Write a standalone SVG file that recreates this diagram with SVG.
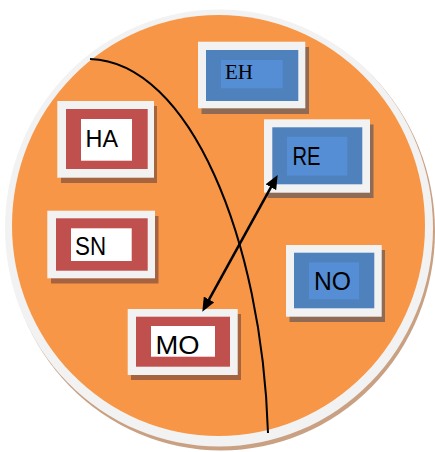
<svg xmlns="http://www.w3.org/2000/svg" width="435" height="452" viewBox="0 0 435 452">
<style>
.outer{fill:#F2F2F2}
.shb{fill:#8F6B55}
.shr{fill:#A6633F}
.red{fill:#C0504D}
.blue{fill:#4F81BD}
.lb{fill:#558ED5}
.wh{fill:#FFFFFF}
.t{font-family:"Liberation Sans",Arial,sans-serif;font-size:26px;fill:#000}
.ts{font-family:"Liberation Serif","Times New Roman",serif;font-size:22px;fill:#000}
</style>
<defs>
<marker id="ah" markerUnits="userSpaceOnUse" markerWidth="14" markerHeight="12" refX="7" refY="6" orient="auto-start-reverse">
<path d="M0,0 L14,6 L0,12 z" fill="#000"/>
</marker>
</defs>
<g id="circle">
<ellipse cx="221" cy="231" rx="214" ry="219.5" fill="#C9A082"/>
<ellipse cx="219" cy="228" rx="214" ry="218.5" fill="#F2F2F2"/>
<ellipse cx="218.5" cy="225.5" rx="206.5" ry="210.5" fill="#F79646"/>
</g>
<g id="node-EH">
<rect class="shb" x="201.5" y="47" width="107.5" height="67"/>
<rect class="outer" x="198" y="41.7" width="107.3" height="66.6"/>
<rect class="blue" x="206" y="50" width="92.3" height="51"/>
<rect class="lb" x="221" y="60" width="61.7" height="28.3"/>
<text class="ts" x="225" y="79.3" textLength="28" lengthAdjust="spacingAndGlyphs">EH</text>
</g>
<g id="node-HA">
<rect class="shr" x="61" y="106" width="96" height="77"/>
<rect class="outer" x="57.3" y="101" width="96.7" height="76.7"/>
<rect class="red" x="66" y="109" width="81.7" height="60"/>
<rect class="wh" x="81" y="119" width="51" height="41.7"/>
<text class="t" x="85.5" y="146.7" style="font-size:23.5px" textLength="32.5" lengthAdjust="spacingAndGlyphs">HA</text>
</g>
<g id="node-RE">
<rect class="shb" x="267.5" y="124.5" width="106" height="73.5"/>
<rect class="outer" x="264" y="119.3" width="106" height="73.4"/>
<rect class="blue" x="272.3" y="127.3" width="90" height="57"/>
<rect class="lb" x="287" y="136.7" width="60.3" height="39"/>
<text class="t" x="292.5" y="165" textLength="28" lengthAdjust="spacingAndGlyphs">RE</text>
</g>
<g id="node-SN">
<rect class="shr" x="51" y="216" width="107.5" height="67.5"/>
<rect class="outer" x="47.3" y="210.7" width="107.7" height="67.6"/>
<rect class="red" x="56" y="218.3" width="91.7" height="52.4"/>
<rect class="wh" x="71" y="228.3" width="60.7" height="32.7"/>
<text class="t" x="75" y="255" textLength="31" lengthAdjust="spacingAndGlyphs">SN</text>
</g>
<g id="node-NO">
<rect class="shb" x="289.5" y="250" width="95.5" height="72"/>
<rect class="outer" x="286" y="245" width="95.7" height="71.7"/>
<rect class="blue" x="294" y="252.7" width="80.3" height="55.6"/>
<rect class="lb" x="309" y="262.3" width="50" height="37"/>
<text class="t" x="314" y="290" textLength="37" lengthAdjust="spacingAndGlyphs">NO</text>
</g>
<g id="node-MO">
<rect class="shr" x="131" y="314" width="110" height="66"/>
<rect class="outer" x="127.7" y="309" width="110" height="66"/>
<rect class="red" x="136" y="316.7" width="94" height="50"/>
<rect class="wh" x="151" y="326" width="64" height="30.7"/>
<text class="t" x="155.5" y="354" textLength="44" lengthAdjust="spacingAndGlyphs">MO</text>
</g>
<g id="connectors" fill="none" stroke="#000">
<path d="M90,59 C190,62 262,240 268,433" stroke-width="2"/>
<line x1="274.3" y1="181.1" x2="205.7" y2="305.6" stroke-width="2.5" marker-start="url(#ah)" marker-end="url(#ah)"/>
</g>
</svg>
